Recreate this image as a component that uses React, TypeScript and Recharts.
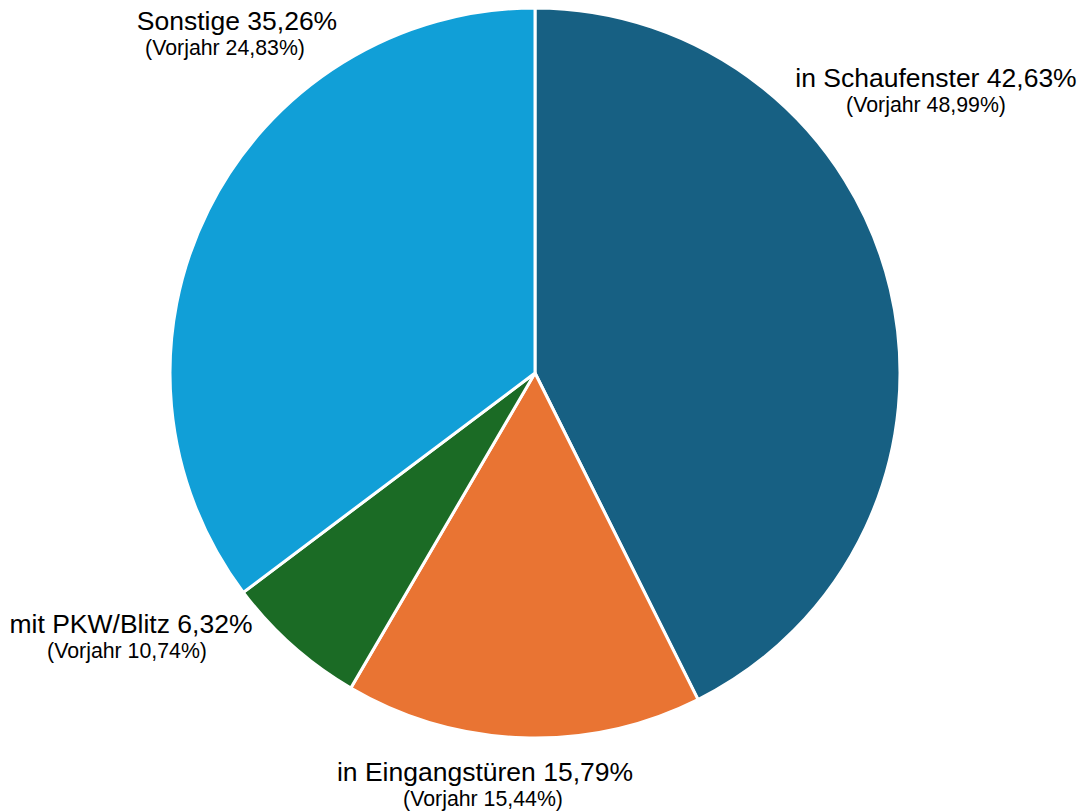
import React from 'react';
import { PieChart, Pie, Cell } from 'recharts';

const categories = ['in Schaufenster', 'in Eingangstüren', 'mit PKW/Blitz', 'Sonstige'];
const shares = [42.63, 15.79, 6.32, 35.26];
const previousYear = [48.99, 15.44, 10.74, 24.83];
const colors = ['#176083', '#E97433', '#1B6B25', '#119FD7'];

// label anchor points (center x of each line, baseline of main line)
const labelSpots = [
  { x: 936, y: 87, subX: 926 },
  { x: 485, y: 781, subX: 483 },
  { x: 131, y: 633, subX: 127 },
  { x: 237, y: 30, subX: 225 },
];

const data = categories.map((name, i) => ({ name, value: shares[i], prev: previousYear[i] }));

const fmt = (v: number) => v.toFixed(2).replace('.', ',') + '%';

const renderLabel = (props: any) => {
  const i = props.index;
  const spot = labelSpots[i];
  return (
    <g key={`lbl-${i}`}>
      <text x={spot.x} y={spot.y} textAnchor="middle" fontSize={26.5} fill="#000">
        {`${categories[i]} ${fmt(shares[i])}`}
      </text>
      <text x={spot.subX} y={spot.y + 25} textAnchor="middle" fontSize={21.3} fill="#000">
        {`(Vorjahr ${fmt(previousYear[i])})`}
      </text>
    </g>
  );
};

export default function App() {
  return (
    <div style={{ position: 'absolute', left: 0, top: 0, width: 1085, height: 812, background: '#fff', fontFamily: '"Liberation Sans", Arial, sans-serif' }}>
      <PieChart width={1085} height={812} margin={{ top: 0, right: 0, bottom: 0, left: 0 }}>
        <Pie
          data={data}
          dataKey="value"
          cx={535}
          cy={373}
          outerRadius={365}
          startAngle={90}
          endAngle={-270}
          stroke="#fff"
          strokeWidth={3}
          label={renderLabel}
          labelLine={false}
          isAnimationActive={false}
        >
          {data.map((d, i) => (
            <Cell key={d.name} fill={colors[i]} />
          ))}
        </Pie>
      </PieChart>
    </div>
  );
}
